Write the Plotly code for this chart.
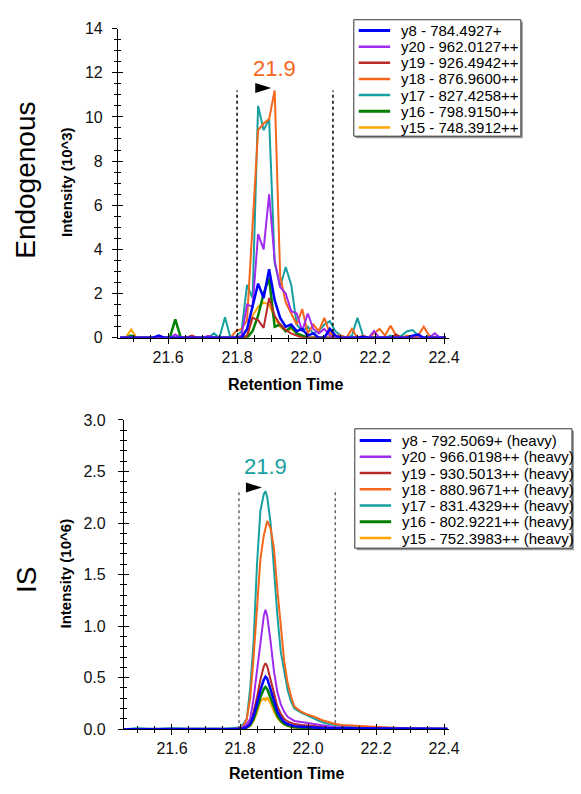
import plotly.graph_objects as go

W, H = 581, 794

# ---------------- data ----------------
ion_names_endo = ["y8 - 784.4927+", "y20 - 962.0127++", "y19 - 926.4942++", "y18 - 876.9600++",
                  "y17 - 827.4258++", "y16 - 798.9150++", "y15 - 748.3912++"]
ion_names_is = ["y8 - 792.5069+ (heavy)", "y20 - 966.0198++ (heavy)", "y19 - 930.5013++ (heavy)",
                "y18 - 880.9671++ (heavy)", "y17 - 831.4329++ (heavy)", "y16 - 802.9221++ (heavy)",
                "y15 - 752.3983++ (heavy)"]
ion_colors = ["#0000FF", "#A02BF0", "#B82A2A", "#F5661A", "#17A0A0", "#008000", "#FFA500"]
ion_widths = [2.5, 2, 2, 2, 2, 2.5, 2]

# Endogenous chromatogram (intensity in 10^3)
rt_endo = [21.461, 21.477, 21.493, 21.509, 21.525, 21.541, 21.557, 21.573, 21.589, 21.605,
           21.621, 21.637, 21.653, 21.669, 21.685, 21.701, 21.717, 21.733, 21.749, 21.765,
           21.781, 21.797, 21.813, 21.829, 21.845, 21.861, 21.877, 21.893, 21.909, 21.925,
           21.941, 21.957, 21.973, 21.989, 22.005, 22.021, 22.037, 22.053, 22.069, 22.085,
           22.101, 22.117, 22.133, 22.149, 22.165, 22.181, 22.197, 22.213, 22.229, 22.245,
           22.261, 22.277, 22.293, 22.309, 22.325, 22.341, 22.357, 22.373, 22.389, 22.405]
endo_y8 = [0, 0, 0, 0, 0, 0, 0, 0.1, 0, 0,
           0, 0, 0, 0, 0, 0, 0, 0, 0, 0,
           0, 0, 0, 0.4, 1.5, 2.45, 1.8, 3.1, 1.7, 0.9,
           0.5, 0.6, 0.3, 0.4, 0.1, 0.2, 0, 0, 0.4, 0.1,
           0, 0, 0, 0, 0.05, 0, 0, 0, 0, 0,
           0, 0, 0, 0.1, 0.15, 0, 0, 0, 0, 0]
endo_y20 = [0, 0, 0, 0, 0, 0, 0, 0, 0, 0,
            0.15, 0, 0, 0, 0, 0, 0.08, 0, 0, 0,
            0, 0, 0.1, 1.5, 1.4, 4.7, 4.0, 6.5, 3.5, 2.3,
            2.0, 1.2, 1.1, 0.3, 1.1, 0.4, 0.2, 0.4, 0.1, 0,
            0, 0, 0, 0, 0, 0, 0.3, 0, 0, 0,
            0, 0, 0, 0, 0, 0, 0, 0.2, 0, 0]
endo_y19 = [0, 0, 0, 0, 0, 0, 0, 0, 0, 0,
            0, 0, 0, 0.1, 0, 0, 0.08, 0, 0, 0,
            0, 0, 0, 0.1, 0.9, 0.8, 0.45, 1.8, 1.0, 0.6,
            0.35, 0.2, 0.1, 0, 0, 0, 0, 0, 0, 0,
            0, 0, 0, 0, 0, 0, 0, 0, 0, 0,
            0.15, 0, 0, 0, 0, 0, 0, 0, 0, 0]
endo_y18 = [0, 0, 0, 0, 0, 0, 0, 0, 0, 0,
            0, 0, 0, 0, 0, 0, 0, 0, 0, 0,
            0, 0.3, 0.4, 0.8, 5.0, 9.4, 9.7, 9.9, 11.2, 2.8,
            1.6, 1.1, 0.6, 1.3, 0.2, 0.6, 0.3, 0.9, 0.2, 0.1,
            0.1, 0, 0.4, 0, 0.1, 0, 0.2, 0.4, 0.1, 0.55,
            0.1, 0, 0.1, 0, 0.1, 0.5, 0.1, 0, 0, 0]
endo_y17 = [0, 0, 0, 0, 0, 0, 0, 0, 0, 0,
            0, 0, 0, 0, 0, 0, 0, 0.2, 0, 0.93,
            0, 0.05, 0.3, 2.4, 1.8, 10.5, 9.4, 9.9, 3.4, 2.3,
            3.2, 2.4, 0.6, 0.3, 0.5, 0.2, 0.3, 0.6, 0.75, 0.3,
            0.1, 0, 0.1, 0.9, 0.1, 0, 0, 0, 0, 0.1,
            0, 0.1, 0.3, 0.35, 0.1, 0, 0.1, 0, 0, 0]
endo_y16 = [0, 0, 0.1, 0, 0, 0, 0, 0, 0, 0,
            0.83, 0, 0, 0, 0, 0, 0, 0, 0, 0,
            0, 0, 0, 0, 0.3, 1.0, 2.0, 2.7, 0.5, 0.6,
            0.3, 0.5, 0.2, 0.1, 0, 0, 0, 0, 0, 0,
            0, 0, 0, 0, 0, 0, 0, 0, 0, 0,
            0, 0, 0, 0, 0, 0, 0, 0, 0, 0]
endo_y15 = [0, 0, 0.38, 0, 0, 0, 0, 0, 0, 0,
            0, 0, 0, 0, 0, 0, 0, 0, 0, 0,
            0, 0, 0, 0, 1.0, 1.4, 1.6, 1.5, 0.9, 0.5,
            0.3, 0.4, 0.2, 0, 0, 0, 0, 0, 0.3, 0.1,
            0, 0, 0, 0, 0, 0, 0, 0, 0, 0,
            0, 0, 0, 0, 0, 0, 0, 0, 0, 0]

# Internal standard chromatogram (intensity in 10^6)
rt_is = [21.46, 21.50, 21.55, 21.60, 21.65, 21.70, 21.75, 21.78,
         21.80, 21.81, 21.82, 21.83, 21.84, 21.85, 21.86, 21.87, 21.875,
         21.88, 21.89, 21.90, 21.91, 21.92, 21.93, 21.94, 21.95, 21.96,
         21.98, 22.00, 22.02, 22.04, 22.06, 22.08, 22.10,
         22.15, 22.20, 22.25, 22.30, 22.35, 22.41]
is_y8 = [0, 0, 0, 0, 0, 0, 0, 0,
         0.005, 0.01, 0.02, 0.05, 0.13, 0.25, 0.38, 0.48, 0.51,
         0.49, 0.38, 0.26, 0.17, 0.11, 0.07, 0.05, 0.04, 0.03,
         0.025, 0.02, 0.015, 0.01, 0.01, 0.01, 0.01,
         0.005, 0.005, 0.005, 0.005, 0.005, 0.005]
is_y20 = [0, 0, 0, 0, 0, 0, 0, 0,
          0.01, 0.02, 0.05, 0.1, 0.3, 0.56, 0.86, 1.1, 1.16,
          1.1, 0.85, 0.56, 0.36, 0.24, 0.17, 0.12, 0.1, 0.08,
          0.07, 0.06, 0.05, 0.04, 0.03, 0.02, 0.02,
          0.01, 0.01, 0.01, 0.01, 0.005, 0]
is_y19 = [0, 0, 0, 0, 0, 0, 0, 0,
          0.005, 0.01, 0.03, 0.06, 0.17, 0.31, 0.48, 0.61, 0.64,
          0.61, 0.48, 0.33, 0.22, 0.15, 0.1, 0.075, 0.06, 0.05,
          0.04, 0.035, 0.03, 0.02, 0.015, 0.01, 0.01,
          0.005, 0.005, 0.005, 0.005, 0, 0]
is_y18 = [0, 0, 0, 0, 0, 0, 0, 0,
          0.01, 0.03, 0.1, 0.3, 0.7, 1.2, 1.65, 1.88, 1.97,
          2.02, 1.95, 1.75, 1.35, 1.0, 0.66, 0.45, 0.32, 0.22,
          0.17, 0.14, 0.12, 0.09, 0.07, 0.05, 0.04,
          0.03, 0.02, 0.015, 0.01, 0.01, 0.005]
is_y17 = [0, 0.01, 0, 0.01, 0, 0, 0, 0.01,
          0.02, 0.05, 0.1, 0.4, 0.85, 1.6, 2.12, 2.28, 2.31,
          2.25, 2.0, 1.55, 1.1, 0.75, 0.55, 0.38, 0.27, 0.2,
          0.16, 0.13, 0.1, 0.07, 0.05, 0.04, 0.03,
          0.02, 0.015, 0.01, 0.01, 0.005, 0.005]
is_y16 = [0, 0, 0, 0, 0, 0, 0, 0,
          0.005, 0.01, 0.02, 0.04, 0.1, 0.2, 0.31, 0.39, 0.41,
          0.39, 0.3, 0.2, 0.13, 0.08, 0.05, 0.035, 0.025, 0.02,
          0.015, 0.01, 0.01, 0.01, 0.005, 0.005, 0.005,
          0, 0, 0, 0, 0, 0]
is_y15 = [0, 0, 0, 0, 0, 0, 0, 0,
          0.005, 0.005, 0.01, 0.03, 0.08, 0.16, 0.27, 0.3, 0.28,
          0.31, 0.25, 0.17, 0.11, 0.07, 0.045, 0.03, 0.02, 0.015,
          0.01, 0.01, 0.005, 0.005, 0.005, 0, 0,
          0, 0, 0, 0, 0, 0]

endo_series = [endo_y8, endo_y20, endo_y19, endo_y18, endo_y17, endo_y16, endo_y15]
is_series = [is_y8, is_y20, is_y19, is_y18, is_y17, is_y16, is_y15]

# peak integration boundaries [start, end] and the boundary line height
endo_bounds = [21.800, 22.078]
endo_bound_height = 11.2
is_bounds = [21.797, 22.080]
is_bound_height = 2.33

# apex label (retention time and height) and the marker arrow
endo_apex_label = "21.9"
endo_label_pos = (21.908, 12.2)
endo_arrow_pos = (21.876, 11.31)
endo_label_color = "#F5661A"
is_apex_label = "21.9"
is_label_pos = (21.875, 2.545)
is_arrow_pos = (21.841, 2.345)
is_label_color = "#17A0A0"

# ---------------- figure ----------------
FONT = "Arial, Liberation Sans, sans-serif"
fig = go.Figure()

def px2x(p):
    return p / W

def px2y(p):
    return 1 - p / H

# draw in reverse order so y8 sits on top
for name, color, lw, ys in reversed(list(zip(ion_names_endo, ion_colors, ion_widths, endo_series))):
    fig.add_trace(go.Scatter(x=rt_endo, y=ys, mode="lines", name=name,
                             line=dict(color=color, width=lw), showlegend=False,
                             xaxis="x", yaxis="y"))
for name, color, lw, ys in reversed(list(zip(ion_names_is, ion_colors, ion_widths, is_series))):
    fig.add_trace(go.Scatter(x=rt_is, y=ys, mode="lines", name=name,
                             line=dict(color=color, width=lw), showlegend=False,
                             xaxis="x2", yaxis="y2"))
# empty traces that register the overlay (inner-tick) axes
fig.add_trace(go.Scatter(x=[], y=[], xaxis="x3", yaxis="y3", showlegend=False, hoverinfo="skip"))
fig.add_trace(go.Scatter(x=[], y=[], xaxis="x4", yaxis="y4", showlegend=False, hoverinfo="skip"))

top_xdom = [px2x(120), px2x(457)]
top_ydom = [px2y(337), px2y(21)]
bot_xdom = [px2x(126), px2x(457)]
bot_ydom = [px2y(737), px2y(421)]
top_xrange = [21.4547, 22.4148]
bot_xrange = [21.4584, 22.415]

tickfont = dict(family=FONT, size=16, color="#111111")

def main_x(dom, rng, anchor):
    return dict(domain=dom, range=rng, anchor=anchor, showline=True, linecolor="black", linewidth=1,
                ticks="outside", ticklen=5, tickcolor="black", tickwidth=1, dtick=0.2, tick0=21.6,
                tickformat=".1f", tickfont=tickfont, showgrid=False, zeroline=False,
                minor=dict(ticks="outside", dtick=0.05, ticklen=3, tickcolor="black", showgrid=False))

def inner_x(over, rng, anchor):
    return dict(overlaying=over, range=rng, anchor=anchor, showline=False, ticks="inside", ticklen=5,
                tickcolor="black", dtick=0.2, tick0=21.6, showticklabels=False, showgrid=False,
                zeroline=False,
                minor=dict(ticks="inside", dtick=0.05, ticklen=3, tickcolor="black", showgrid=False))

def main_y(dom, rng, anchor, dt, mdt, fmt, standoff):
    return dict(domain=dom, range=rng, anchor=anchor, showline=True, linecolor="black", linewidth=1,
                ticks="outside", ticklen=5, tickcolor="black", tickwidth=1, dtick=dt, tick0=0,
                tickformat=fmt, tickfont=tickfont, showgrid=False, zeroline=False,
                ticklabelstandoff=standoff,
                minor=dict(ticks="outside", dtick=mdt, ticklen=3, tickcolor="black", showgrid=False))

def inner_y(over, rng, anchor, dt, mdt):
    return dict(overlaying=over, range=rng, anchor=anchor, showline=False, ticks="inside", ticklen=5,
                tickcolor="black", dtick=dt, tick0=0, showticklabels=False, showgrid=False,
                zeroline=False,
                minor=dict(ticks="inside", dtick=mdt, ticklen=3, tickcolor="black", showgrid=False))

fig.update_layout(
    width=W, height=H, margin=dict(l=0, r=0, t=0, b=0),
    paper_bgcolor="white", plot_bgcolor="white", showlegend=False,
    font=dict(family=FONT, color="black"),
    xaxis=main_x(top_xdom, top_xrange, "y"),
    yaxis=main_y(top_ydom, [0, 14], "x", 2, 0.5, "d", 6),
    xaxis2=main_x(bot_xdom, bot_xrange, "y2"),
    yaxis2=main_y(bot_ydom, [0, 3], "x2", 0.5, 0.1, ".1f", 9),
    xaxis3=inner_x("x", top_xrange, "y"),
    yaxis3=inner_y("y", [0, 14], "x", 2, 0.5),
    xaxis4=inner_x("x2", bot_xrange, "y2"),
    yaxis4=inner_y("y2", [0, 3], "x2", 0.5, 0.1),
)

shapes = []
annotations = []

# peak boundary lines
for b in endo_bounds:
    shapes.append(dict(type="line", xref="x", yref="y", x0=b, x1=b, y0=0, y1=endo_bound_height,
                       line=dict(color="black", width=1.5, dash="dot")))
for b in is_bounds:
    shapes.append(dict(type="line", xref="x2", yref="y2", x0=b, x1=b, y0=0, y1=is_bound_height,
                       line=dict(color="#222222", width=1, dash="dot")))

# apex arrows (pixel-sized triangles anchored at data coordinates)
for (ax, ay), xr, yr in [(endo_arrow_pos, "x", "y"), (is_arrow_pos, "x2", "y2")]:
    shapes.append(dict(type="path", xref=xr, yref=yr, xsizemode="pixel", ysizemode="pixel",
                       xanchor=ax, yanchor=ay, path="M -8 -5 L 8 0 L -8 5 Z",
                       fillcolor="black", line=dict(color="black", width=0)))

annotations.append(dict(x=endo_label_pos[0], y=endo_label_pos[1], xref="x", yref="y",
                        text=endo_apex_label, showarrow=False, xanchor="center", yanchor="middle",
                        font=dict(family=FONT, size=22, color=endo_label_color)))
annotations.append(dict(x=is_label_pos[0], y=is_label_pos[1], xref="x2", yref="y2",
                        text=is_apex_label, showarrow=False, xanchor="center", yanchor="middle",
                        font=dict(family=FONT, size=22, color=is_label_color)))

# axis titles and panel labels
title_font = dict(family=FONT, size=15, color="black")
def centered(x, y, text, font, angle=0):
    return dict(x=px2x(x), y=px2y(y), xref="paper", yref="paper", text=text, textangle=angle,
                showarrow=False, xanchor="center", yanchor="middle", font=font)

annotations += [
    centered(67, 178, "<b>Intensity (10^3)</b>", title_font, -90),
    centered(67, 578, "<b>Intensity (10^6)</b>", title_font, -90),
    centered(290, 385, "<b>Retention Time</b>", dict(family=FONT, size=16, color="black")),
    centered(292, 782, "<b>Retention Time</b>", dict(family=FONT, size=16, color="black")),
    centered(26, 176, "Endogenous", dict(family=FONT, size=28, color="black"), -90),
    centered(27, 585, "IS", dict(family=FONT, size=28, color="black"), -90),
]

# legends (boxes drawn in page pixels)
def add_legend(names, box, row0, step):
    x0, y0, x1, y1 = box
    shapes.append(dict(type="rect", xref="paper", yref="paper", x0=px2x(x0 + 2), x1=px2x(x1 + 2),
                       y0=px2y(y1 + 2), y1=px2y(y0 + 2), fillcolor="#9a9a9a",
                       line=dict(width=0), layer="above"))
    shapes.append(dict(type="rect", xref="paper", yref="paper", x0=px2x(x0), x1=px2x(x1),
                       y0=px2y(y1), y1=px2y(y0), fillcolor="white",
                       line=dict(color="#333333", width=1), layer="above"))
    for i, (nm, col, lw) in enumerate(zip(names, ion_colors, ion_widths)):
        yy = row0 + i * step
        shapes.append(dict(type="line", xref="paper", yref="paper", x0=px2x(x0 + 5), x1=px2x(x0 + 37),
                           y0=px2y(yy), y1=px2y(yy), line=dict(color=col, width=lw + 0.5),
                           layer="above"))
        annotations.append(dict(x=px2x(x0 + 46), y=px2y(yy), xref="paper", yref="paper", text=nm,
                                xanchor="left", yanchor="middle", showarrow=False,
                                font=dict(family=FONT, size=15, color="black")))

add_legend(ion_names_endo, (360, 12, 530, 131), 23, 16.5)
add_legend(ion_names_is, (361, 430, 582, 552), 442, 16.6)

fig.update_layout(shapes=shapes, annotations=annotations)
fig.write_html("out.html", config={"displayModeBar": False},
               post_script="document.body.style.margin='0';document.body.style.overflow='hidden';")
